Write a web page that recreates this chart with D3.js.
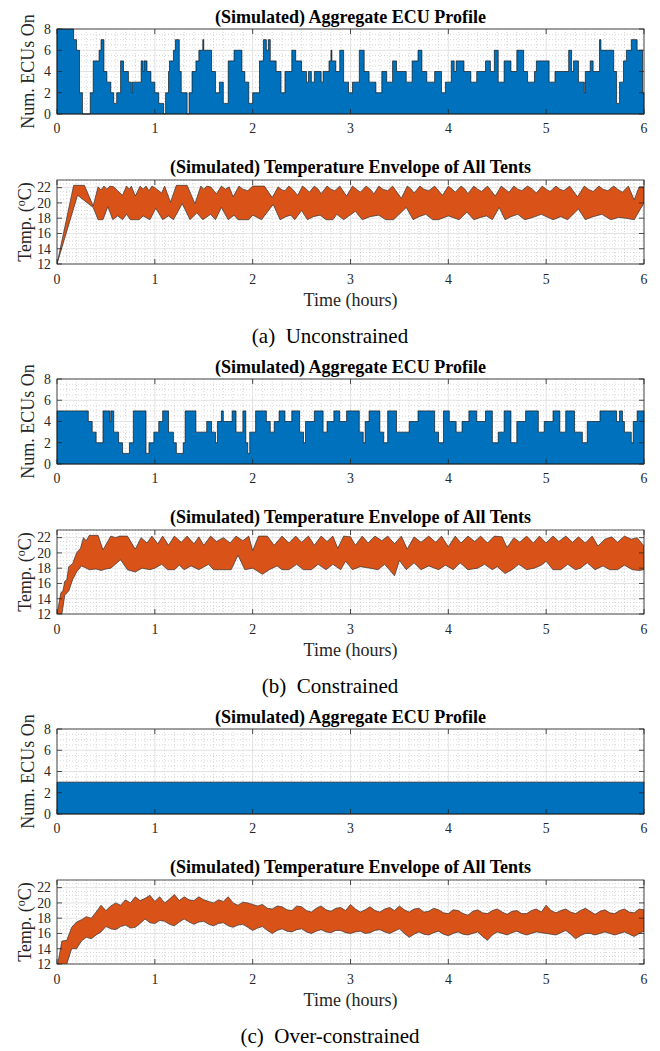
<!DOCTYPE html>
<html>
<head>
<meta charset="utf-8">
<script src="https://cdn.jsdelivr.net/npm/d3@7"></script>
<style>
  body { margin: 0; background: #fff; }
  svg { display: block; }
  text { font-family: "Liberation Serif", "Times New Roman", serif; fill: #262626; }
</style>
</head>
<body>
<div id="chart"></div>
<script>
// ---- data: [time (h), value] ----
// ECU on-counts (step profile, value holds until next time)
const ecuA = [[0,8],[0.17,7],[0.20,6],[0.23,2],[0.26,0],[0.34,2],[0.37,5],[0.43,6],[0.45,7],[0.48,4],[0.51,3],[0.55,2],[0.58,1],[0.61,2],[0.65,5],[0.68,4],[0.73,3],[0.76,2],[0.77,3],[0.86,5],[0.88,4],[0.89,5],[0.92,4],[0.96,3],[1.00,2],[1.04,1],[1.09,0],[1.11,2],[1.14,4],[1.15,5],[1.19,6],[1.21,7],[1.25,4],[1.27,2],[1.33,0],[1.35,2],[1.38,4],[1.42,5],[1.45,6],[1.49,7],[1.50,6],[1.58,4],[1.62,2],[1.66,3],[1.70,1],[1.75,5],[1.81,6],[1.89,4],[1.92,3],[1.96,1],[2.00,2],[2.07,5],[2.11,7],[2.14,6],[2.16,7],[2.18,5],[2.24,4],[2.29,2],[2.33,4],[2.40,6],[2.44,5],[2.50,4],[2.55,3],[2.57,4],[2.60,3],[2.63,4],[2.70,3],[2.72,4],[2.78,5],[2.80,6],[2.81,5],[2.85,4],[2.89,6],[2.93,3],[2.98,2],[3.02,3],[3.09,6],[3.14,4],[3.19,3],[3.26,2],[3.32,4],[3.37,3],[3.43,5],[3.47,4],[3.57,3],[3.63,5],[3.69,6],[3.73,4],[3.78,3],[3.86,4],[3.93,2],[3.97,3],[4.03,5],[4.06,4],[4.08,5],[4.16,4],[4.23,3],[4.29,4],[4.38,5],[4.43,4],[4.47,6],[4.51,3],[4.57,5],[4.64,4],[4.70,6],[4.77,4],[4.81,3],[4.88,4],[4.90,5],[5.03,3],[5.09,4],[5.23,6],[5.26,4],[5.28,5],[5.33,3],[5.39,2],[5.40,4],[5.45,5],[5.48,4],[5.545,7],[5.56,6],[5.69,4],[5.72,1],[5.75,3],[5.79,5],[5.82,6],[5.87,7],[5.93,6],[5.985,2]];

const ecuB = [[0,5],[0.32,4],[0.36,3],[0.40,2],[0.47,5],[0.54,4],[0.55,5],[0.58,3],[0.63,2],[0.67,1],[0.74,2],[0.78,5],[0.91,1],[0.94,2],[0.99,3],[1.04,4],[1.08,5],[1.14,3],[1.19,2],[1.22,1],[1.29,2],[1.31,5],[1.42,3],[1.53,4],[1.58,3],[1.62,2],[1.64,4],[1.68,5],[1.70,4],[1.79,5],[1.83,3],[1.90,5],[1.93,2],[1.95,1],[1.97,3],[2.03,5],[2.14,4],[2.18,3],[2.22,4],[2.27,5],[2.33,4],[2.40,5],[2.48,3],[2.52,2],[2.54,4],[2.63,5],[2.72,3],[2.76,4],[2.83,5],[2.89,4],[2.96,5],[3.09,3],[3.13,2],[3.15,4],[3.19,5],[3.30,3],[3.34,2],[3.38,5],[3.47,3],[3.60,4],[3.69,5],[3.86,3],[3.90,2],[3.95,5],[4.01,4],[4.08,3],[4.14,4],[4.21,5],[4.29,4],[4.38,5],[4.45,2],[4.51,3],[4.57,5],[4.64,2],[4.70,4],[4.79,5],[4.92,3],[4.98,4],[5.07,5],[5.14,3],[5.20,5],[5.29,3],[5.37,2],[5.42,4],[5.55,5],[5.72,4],[5.75,5],[5.78,4],[5.80,3],[5.87,2],[5.89,4],[5.93,5]];

const ecuC = [[0,3]];

// temperature envelope (upper / lower bound over all tents), deg C
const tempUpA = [[0,12],[0.17,22.3],[0.28,22.3],[0.37,19.6],[0.42,22.1],[0.45,21.7],[0.48,22.2],[0.51,21.8],[0.54,22.2],[0.58,22.1],[0.62,21.6],[0.67,21.0],[0.71,22.2],[0.74,21.8],[0.76,22.2],[0.80,20.9],[0.85,22.2],[0.88,21.8],[0.91,22.2],[0.94,21.6],[0.97,22.2],[1.00,22.0],[1.03,21.7],[1.07,21.3],[1.10,22.2],[1.16,20.1],[1.22,22.3],[1.33,22.3],[1.41,19.9],[1.47,22.2],[1.50,21.8],[1.53,22.2],[1.57,22.1],[1.63,21.2],[1.68,22.2],[1.72,21.8],[1.76,22.1],[1.80,20.8],[1.86,22.2],[1.90,21.8],[1.95,21.6],[2.00,22.2],[2.12,22.2],[2.20,20.7],[2.26,22.1],[2.30,21.7],[2.33,21.6],[2.37,22.2],[2.40,21.9],[2.46,21.0],[2.51,22.2],[2.55,21.8],[2.58,21.4],[2.63,22.2],[2.67,21.8],[2.70,21.2],[2.76,22.2],[2.80,21.8],[2.84,21.6],[2.89,22.2],[2.96,20.9],[3.02,22.2],[3.06,21.8],[3.10,21.4],[3.16,22.2],[3.20,21.8],[3.24,21.2],[3.29,22.2],[3.33,21.8],[3.38,21.6],[3.43,22.2],[3.52,20.6],[3.58,22.2],[3.62,21.8],[3.65,21.3],[3.71,22.2],[3.75,21.8],[3.80,21.6],[3.86,22.2],[3.94,21.0],[4.00,22.2],[4.04,21.8],[4.07,21.4],[4.13,22.2],[4.17,21.8],[4.20,21.2],[4.26,22.2],[4.30,21.8],[4.34,21.5],[4.40,22.2],[4.48,20.9],[4.54,22.2],[4.58,21.8],[4.62,21.4],[4.67,22.2],[4.71,21.8],[4.75,21.6],[4.81,22.2],[4.86,21.8],[4.90,21.3],[4.96,22.2],[5.00,21.8],[5.04,21.5],[5.10,22.2],[5.14,21.8],[5.18,21.6],[5.24,22.2],[5.32,20.8],[5.39,22.2],[5.43,21.8],[5.48,21.5],[5.54,22.2],[5.58,21.8],[5.63,21.6],[5.69,22.2],[5.73,21.8],[5.78,21.4],[5.84,22.2],[5.90,20.4],[5.95,22.1],[6.00,22.1]];
const tempLoA = [[0,12],[0.21,21.0],[0.37,19.4],[0.42,17.8],[0.47,17.8],[0.52,19.5],[0.57,17.8],[0.62,18.3],[0.67,17.8],[0.71,18.5],[0.75,17.8],[0.84,17.8],[0.88,18.3],[0.95,17.8],[1.01,19.3],[1.08,17.8],[1.14,18.3],[1.19,17.8],[1.28,19.9],[1.36,17.8],[1.43,18.7],[1.49,17.8],[1.57,18.5],[1.62,17.8],[1.68,19.4],[1.75,17.8],[1.81,18.4],[1.85,17.8],[1.96,17.8],[2.00,18.4],[2.09,17.8],[2.21,19.8],[2.28,17.8],[2.34,18.2],[2.39,18.4],[2.43,17.8],[2.50,19.0],[2.56,17.8],[2.62,18.2],[2.69,18.4],[2.75,17.8],[2.82,17.8],[2.86,18.5],[2.93,17.8],[3.05,18.9],[3.12,17.8],[3.20,18.2],[3.29,18.4],[3.36,17.8],[3.44,17.8],[3.57,19.4],[3.64,17.8],[3.70,18.2],[3.77,18.5],[3.84,17.8],[3.90,17.8],[4.00,18.3],[4.11,17.8],[4.19,18.8],[4.26,17.8],[4.33,18.1],[4.39,18.3],[4.45,17.8],[4.52,19.4],[4.58,17.8],[4.64,18.2],[4.71,18.5],[4.78,17.8],[4.84,18.0],[4.95,18.5],[5.07,17.8],[5.15,18.2],[5.22,17.8],[5.33,19.2],[5.40,17.8],[5.48,18.2],[5.57,18.5],[5.66,17.8],[5.74,18.1],[5.81,18.0],[5.90,17.8],[6.00,20.0]];

const tempUpB = [[0,12],[0.04,14.8],[0.06,15.0],[0.08,16.3],[0.10,16.5],[0.12,18.2],[0.16,18.6],[0.20,20.0],[0.24,20.6],[0.27,22.0],[0.30,21.6],[0.33,22.3],[0.42,22.3],[0.47,20.4],[0.55,22.2],[0.60,22.0],[0.64,22.2],[0.72,22.2],[0.80,20.5],[0.86,22.0],[0.92,21.3],[0.97,22.2],[1.03,21.2],[1.08,22.2],[1.14,21.0],[1.20,22.2],[1.27,21.4],[1.33,22.2],[1.40,21.2],[1.45,22.1],[1.50,21.0],[1.57,22.2],[1.63,21.5],[1.70,22.0],[1.77,21.3],[1.83,22.2],[1.90,21.6],[1.96,22.2],[2.00,20.3],[2.06,22.2],[2.15,22.2],[2.22,21.0],[2.30,22.2],[2.37,21.3],[2.44,22.2],[2.50,21.4],[2.57,22.2],[2.63,21.0],[2.70,22.2],[2.76,21.5],[2.82,22.2],[2.87,20.6],[2.93,22.2],[3.00,22.1],[3.05,21.0],[3.12,22.2],[3.18,21.3],[3.25,22.2],[3.32,21.6],[3.38,22.2],[3.45,21.2],[3.52,22.2],[3.58,20.5],[3.65,22.1],[3.72,21.4],[3.80,22.2],[3.87,21.4],[3.93,22.2],[4.00,20.8],[4.07,22.2],[4.13,21.3],[4.20,22.2],[4.27,21.5],[4.33,22.2],[4.40,21.3],[4.47,22.2],[4.55,22.1],[4.60,20.7],[4.67,22.0],[4.73,21.4],[4.80,22.2],[4.87,21.3],[4.93,22.2],[5.00,21.3],[5.07,22.2],[5.13,21.5],[5.20,22.2],[5.27,21.4],[5.33,22.1],[5.40,21.3],[5.47,22.2],[5.53,20.9],[5.60,21.8],[5.67,22.1],[5.73,21.4],[5.80,22.2],[5.87,21.8],[5.93,22.0],[6.00,20.9]];
const tempLoB = [[0,11.0],[0.05,12.0],[0.08,14.5],[0.12,15.0],[0.16,16.5],[0.20,17.5],[0.25,18.3],[0.30,18.0],[0.33,17.8],[0.40,17.9],[0.45,17.7],[0.50,17.9],[0.55,18.0],[0.65,19.1],[0.72,17.8],[0.80,17.5],[0.87,18.0],[0.95,17.8],[1.00,18.0],[1.07,18.5],[1.13,17.8],[1.20,17.8],[1.25,18.4],[1.30,17.8],[1.37,18.3],[1.45,17.8],[1.55,18.5],[1.60,17.8],[1.70,17.8],[1.78,17.8],[1.85,19.7],[1.92,17.8],[2.00,18.0],[2.10,17.2],[2.17,17.8],[2.25,18.3],[2.30,17.8],[2.37,17.8],[2.45,18.5],[2.52,17.8],[2.60,17.8],[2.67,18.5],[2.75,17.8],[2.82,18.5],[2.90,17.8],[2.95,18.9],[3.02,17.8],[3.10,18.2],[3.20,18.0],[3.28,17.8],[3.35,18.5],[3.45,17.0],[3.50,19.0],[3.57,17.8],[3.65,18.7],[3.72,17.8],[3.80,18.3],[3.90,17.8],[3.97,18.4],[4.05,17.8],[4.12,18.7],[4.20,17.8],[4.30,18.0],[4.37,18.5],[4.45,17.8],[4.50,18.2],[4.58,17.3],[4.65,17.8],[4.72,18.5],[4.80,17.8],[4.88,18.0],[4.95,18.4],[5.00,18.9],[5.07,17.8],[5.15,17.8],[5.22,18.5],[5.30,17.8],[5.35,18.0],[5.42,18.7],[5.50,17.8],[5.58,18.3],[5.65,17.8],[5.73,17.8],[5.80,18.4],[5.88,17.8],[5.95,17.7],[6.00,17.8]];

const tempUpC = [[0,11.5],[0.05,15.0],[0.10,15.1],[0.15,16.8],[0.20,17.5],[0.25,17.8],[0.30,18.2],[0.35,18.0],[0.40,18.8],[0.45,19.7],[0.50,19.0],[0.55,19.6],[0.60,20.0],[0.65,19.7],[0.70,20.4],[0.75,20.0],[0.80,20.8],[0.85,20.3],[0.90,20.6],[0.95,21.0],[1.00,20.2],[1.05,20.8],[1.10,20.0],[1.15,20.5],[1.20,21.1],[1.25,20.3],[1.30,20.8],[1.35,20.4],[1.40,20.3],[1.45,20.8],[1.50,20.4],[1.55,20.2],[1.60,20.0],[1.65,20.4],[1.70,20.2],[1.75,20.8],[1.80,20.0],[1.85,19.7],[1.90,20.1],[1.95,20.0],[2.00,19.8],[2.05,19.6],[2.10,19.8],[2.15,19.3],[2.20,19.2],[2.25,19.6],[2.30,19.5],[2.35,19.1],[2.40,19.0],[2.45,19.6],[2.50,19.5],[2.55,19.0],[2.60,18.8],[2.65,19.3],[2.70,19.6],[2.75,19.1],[2.80,18.9],[2.85,19.3],[2.90,19.4],[2.95,19.0],[3.00,19.8],[3.05,19.2],[3.10,18.8],[3.15,19.1],[3.20,19.5],[3.25,19.0],[3.30,18.8],[3.35,19.2],[3.40,19.4],[3.45,19.0],[3.50,19.6],[3.55,19.1],[3.60,18.8],[3.65,19.2],[3.70,19.3],[3.75,18.8],[3.80,18.9],[3.85,19.3],[3.90,19.1],[3.95,18.7],[4.00,18.6],[4.05,19.1],[4.10,19.0],[4.15,18.6],[4.20,18.4],[4.25,18.9],[4.30,19.1],[4.35,18.7],[4.40,18.6],[4.45,19.0],[4.50,19.2],[4.55,18.8],[4.60,18.5],[4.65,18.9],[4.70,19.0],[4.75,18.6],[4.80,18.6],[4.85,19.0],[4.90,19.2],[4.95,18.8],[5.00,19.7],[5.05,19.0],[5.10,18.7],[5.15,19.0],[5.20,19.2],[5.25,18.8],[5.30,18.6],[5.35,19.0],[5.40,19.3],[5.45,18.9],[5.50,18.5],[5.55,18.9],[5.60,19.1],[5.65,18.7],[5.70,18.6],[5.75,19.0],[5.80,19.2],[5.85,18.8],[5.90,18.7],[5.95,19.2],[6.00,19.1]];
const tempLoC = [[0,10.0],[0.10,12.0],[0.15,14.0],[0.20,14.0],[0.25,15.0],[0.30,15.5],[0.35,15.3],[0.40,15.8],[0.45,16.2],[0.50,16.9],[0.55,16.6],[0.60,16.5],[0.65,16.9],[0.70,17.1],[0.75,16.7],[0.80,16.8],[0.85,17.3],[0.90,17.9],[0.95,17.4],[1.00,17.3],[1.05,17.7],[1.10,17.6],[1.15,17.2],[1.20,17.0],[1.25,17.5],[1.30,17.9],[1.35,17.5],[1.40,17.2],[1.45,17.5],[1.50,17.6],[1.55,17.2],[1.60,17.0],[1.65,17.3],[1.70,17.4],[1.75,17.0],[1.80,16.8],[1.85,17.1],[1.90,17.2],[1.95,16.8],[2.00,16.4],[2.05,16.7],[2.10,16.9],[2.15,16.4],[2.20,16.0],[2.25,16.4],[2.30,16.6],[2.35,16.3],[2.40,16.2],[2.45,16.5],[2.50,16.6],[2.55,16.2],[2.60,16.0],[2.65,16.3],[2.70,16.5],[2.75,16.2],[2.80,16.1],[2.85,16.4],[2.90,16.4],[2.95,16.1],[3.00,16.0],[3.05,16.2],[3.10,16.3],[3.15,16.0],[3.20,16.1],[3.25,16.4],[3.30,16.5],[3.35,16.2],[3.40,16.0],[3.45,16.3],[3.50,16.6],[3.55,16.0],[3.60,15.5],[3.65,15.9],[3.70,16.2],[3.75,15.9],[3.80,15.8],[3.85,16.1],[3.90,16.3],[3.95,15.9],[4.00,15.7],[4.05,16.0],[4.10,16.2],[4.15,15.9],[4.20,15.8],[4.25,16.0],[4.30,16.2],[4.35,15.6],[4.40,15.1],[4.45,15.8],[4.50,16.2],[4.55,16.0],[4.60,15.8],[4.65,16.1],[4.70,16.3],[4.75,16.0],[4.80,15.8],[4.85,16.0],[4.90,16.2],[4.95,16.1],[5.00,16.0],[5.05,15.9],[5.10,15.8],[5.15,16.1],[5.20,16.4],[5.25,15.9],[5.30,15.3],[5.35,15.7],[5.40,16.0],[5.45,16.0],[5.50,15.8],[5.55,16.0],[5.60,16.2],[5.65,16.0],[5.70,15.8],[5.75,16.0],[5.80,16.2],[5.85,15.9],[5.90,15.6],[5.95,16.0],[6.00,16.3]];

const captions = ["(a)\u2002Unconstrained", "(b)\u2002Constrained", "(c)\u2002Over-constrained"];
const xTicks = [0, 1, 2, 3, 4, 5, 6];
const ecuTicks = [0, 2, 4, 6, 8];
const tempTicks = [12, 14, 16, 18, 20, 22];

const blocks = [
  { ecu: ecuA, up: tempUpA, lo: tempLoA },
  { ecu: ecuB, up: tempUpB, lo: tempLoB },
  { ecu: ecuC, up: tempUpC, lo: tempLoC }
];

// ---- drawing ----
const width = 660, height = 1051;
const blockH = 350;
const left = 57, right = 644;
const blue = "#0072BD", orange = "#D95319";
const tickFont = 13.8;

const svg = d3.select("#chart").append("svg")
  .attr("width", width)
  .attr("height", height);

const x = d3.scaleLinear().domain([0, 6]).range([left, right]);

function frame(g, y, yTicks, yMinorStep, top, bottom) {
  const [d0, d1] = y.domain();
  // minor grid
  g.append("g").selectAll("line")
    .data(d3.range(0, 6.0001, 0.1).filter(v => Math.abs(v - Math.round(v)) > 1e-6))
    .join("line")
    .attr("x1", d => x(d)).attr("x2", d => x(d))
    .attr("y1", top).attr("y2", bottom)
    .attr("stroke", "#bdbdbd").attr("stroke-width", 0.6)
    .attr("stroke-dasharray", "1,2");
  g.append("g").selectAll("line")
    .data(d3.range(d0, d1 + 1e-6, yMinorStep).filter(v => !yTicks.includes(+v.toFixed(3))))
    .join("line")
    .attr("x1", left).attr("x2", right)
    .attr("y1", d => y(d)).attr("y2", d => y(d))
    .attr("stroke", "#bdbdbd").attr("stroke-width", 0.6)
    .attr("stroke-dasharray", "1,2");
  // major grid
  g.append("g").selectAll("line")
    .data(xTicks)
    .join("line")
    .attr("x1", d => x(d)).attr("x2", d => x(d))
    .attr("y1", top).attr("y2", bottom)
    .attr("stroke", "#dcdcdc").attr("stroke-width", 0.8);
  g.append("g").selectAll("line")
    .data(yTicks)
    .join("line")
    .attr("x1", left).attr("x2", right)
    .attr("y1", d => y(d)).attr("y2", d => y(d))
    .attr("stroke", "#dcdcdc").attr("stroke-width", 0.8);
}

function axes(g, y, yTicks, top, bottom, tickLabelY) {
  const ax = g.append("g");
  ax.append("rect")
    .attr("x", left).attr("y", top)
    .attr("width", right - left).attr("height", bottom - top)
    .attr("fill", "none").attr("stroke", "#262626").attr("stroke-width", 0.8);
  ax.selectAll(".xt")
    .data(xTicks)
    .join("path")
    .attr("d", d => `M${x(d)},${bottom}v-5M${x(d)},${top}v5`)
    .attr("stroke", "#262626").attr("stroke-width", 0.8);
  ax.selectAll(".yt")
    .data(yTicks)
    .join("path")
    .attr("d", d => `M${left},${y(d)}h5M${right},${y(d)}h-5`)
    .attr("stroke", "#262626").attr("stroke-width", 0.8);
  ax.selectAll(".xl")
    .data(xTicks)
    .join("text")
    .attr("x", d => x(d)).attr("y", tickLabelY)
    .attr("text-anchor", "middle")
    .attr("font-size", tickFont)
    .text(d => d);
  ax.selectAll(".yl")
    .data(yTicks)
    .join("text")
    .attr("x", left - 6).attr("y", d => y(d) + 4.8)
    .attr("text-anchor", "end")
    .attr("font-size", tickFont)
    .text(d => d);
}

blocks.forEach((b, i) => {
  const o = i * blockH;
  const g = svg.append("g");

  // ---------- ECU profile ----------
  const eTop = o + 29, eBot = o + 114;
  const yE = d3.scaleLinear().domain([0, 8]).range([eBot, eTop]);
  frame(g, yE, ecuTicks, 0.5, eTop, eBot);

  const steps = b.ecu.map(([t, v]) => ({ t, v }));
  steps.push({ t: 6, v: steps[steps.length - 1].v });
  const ecuArea = d3.area()
    .x(d => x(d.t))
    .y0(yE(0))
    .y1(d => yE(d.v))
    .curve(d3.curveStepAfter);
  g.append("path")
    .datum(steps)
    .attr("d", ecuArea)
    .attr("fill", blue)
    .attr("stroke", "#000")
    .attr("stroke-width", 0.6);

  axes(g, yE, ecuTicks, eTop, eBot, o + 133);

  g.append("text")
    .attr("x", (left + right) / 2).attr("y", o + 23)
    .attr("text-anchor", "middle")
    .attr("font-size", 18).attr("font-weight", "bold")
    .style("fill", "#000")
    .text("(Simulated) Aggregate ECU Profile");

  g.append("text")
    .attr("transform", `translate(34,${(eTop + eBot) / 2}) rotate(-90)`)
    .attr("text-anchor", "middle")
    .attr("font-size", 18)
    .text("Num. ECUs On");

  // ---------- temperature envelope ----------
  const tTop = o + 180, tBot = o + 264;
  const yT = d3.scaleLinear().domain([12, 23]).range([tBot, tTop]);
  frame(g, yT, tempTicks, 0.5, tTop, tBot);

  const clipId = "clip" + i;
  svg.append("clipPath").attr("id", clipId)
    .append("rect")
    .attr("x", left).attr("y", tTop)
    .attr("width", right - left).attr("height", tBot - tTop);

  const ring = b.up.concat(b.lo.slice().reverse());
  const line = d3.line().x(d => x(d[0])).y(d => yT(d[1]));
  g.append("path")
    .attr("d", line(ring) + "Z")
    .attr("clip-path", `url(#${clipId})`)
    .attr("fill", orange)
    .attr("stroke", "#333")
    .attr("stroke-width", 0.7)
    .attr("stroke-linejoin", "round");

  axes(g, yT, tempTicks, tTop, tBot, o + 284);

  g.append("text")
    .attr("x", (left + right) / 2).attr("y", o + 173)
    .attr("text-anchor", "middle")
    .attr("font-size", 18).attr("font-weight", "bold")
    .style("fill", "#000")
    .text("(Simulated) Temperature Envelope of All Tents");

  const yl = g.append("text")
    .attr("transform", `translate(31,${(tTop + tBot) / 2}) rotate(-90)`)
    .attr("text-anchor", "middle")
    .attr("font-size", 18);
  yl.append("tspan").text("Temp. (");
  yl.append("tspan").attr("dy", -6).attr("font-size", 12).text("o");
  yl.append("tspan").attr("dy", 6).text("C)");

  g.append("text")
    .attr("x", (left + right) / 2).attr("y", o + 306)
    .attr("text-anchor", "middle")
    .attr("font-size", 18)
    .text("Time (hours)");

  g.append("text")
    .attr("x", width / 2).attr("y", o + 343)
    .attr("text-anchor", "middle")
    .attr("font-size", 21)
    .style("fill", "#000")
    .text(captions[i]);
});
</script>
</body>
</html>
